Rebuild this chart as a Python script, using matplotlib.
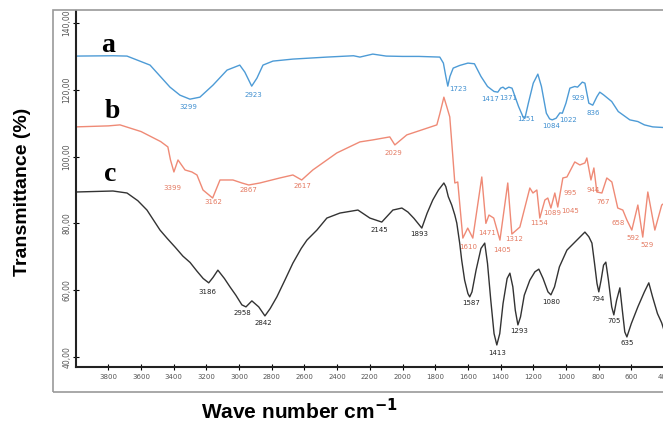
import matplotlib
matplotlib.use("Agg")
import matplotlib.pyplot as plt
from matplotlib.patches import Rectangle

# ---- spectrum a (blue) ----
wn_a = [4000, 3772, 3686, 3545, 3423, 3362, 3301, 3240, 3160, 3074, 2996, 2965, 2923,
        2891, 2854, 2793, 2671, 2463, 2300, 2261, 2182, 2100, 2000, 1900, 1772, 1750,
        1735, 1723, 1710, 1690, 1650, 1600, 1560, 1520, 1480, 1440, 1417, 1400, 1385,
        1371, 1350, 1330, 1290, 1260, 1251, 1230, 1200, 1172, 1150, 1120, 1100, 1084,
        1060, 1037, 1022, 1000, 976, 946, 929, 900, 884, 860, 836, 810, 793, 770, 720,
        680, 609, 560, 520, 469, 400]
t_a = [130.1, 130.2, 130.1, 127.4, 120.8, 118.4, 117.2, 117.8, 121.4, 125.9, 127.4, 125.3, 121.1,
       123.5, 127.4, 128.6, 129.2, 129.8, 130.2, 129.8, 130.7, 130.1, 130.0, 130.0, 129.8, 128.0,
       124.0, 121.1, 124.0, 126.5, 127.3, 128.0, 127.8, 124.0, 121.0, 119.5, 119.3, 120.5, 120.8,
       120.2, 120.8, 120.5, 115.0, 111.6, 111.5, 116.0, 122.0, 124.7, 121.0, 113.0, 111.3, 111.0,
       111.5, 113.1, 113.0, 116.0, 120.5, 121.0, 120.8, 122.3, 122.0, 116.0, 115.4, 118.0, 119.3,
       118.5, 116.5, 113.5, 111.0, 110.5, 109.5, 108.9, 108.7]

# ---- spectrum b (red) ----
wn_b = [4000, 3800, 3729, 3600, 3480, 3436, 3420, 3399, 3374, 3331, 3289, 3258, 3221, 3162,
        3117, 3038, 2983, 2941, 2873, 2751, 2671, 2617, 2549, 2402, 2261, 2182, 2078, 2047,
        1974, 1790, 1772, 1747, 1729, 1711, 1700, 1680, 1662, 1631, 1601, 1570, 1515, 1490, 1471,
        1442, 1404, 1356, 1331, 1282, 1221, 1202, 1178, 1160, 1129, 1111, 1092, 1068, 1050,
        1019, 994, 946, 915, 884, 872, 847, 829, 811, 780, 750, 719, 683, 652, 627, 597,
        560, 530, 499, 456, 414, 400]
t_b = [108.9, 109.2, 109.5, 107.5, 104.5, 102.9, 99.0, 95.4, 99.0, 96.0, 95.4, 94.5, 90.0, 87.6,
       93.0, 93.0, 92.1, 91.5, 92.1, 93.6, 94.5, 93.0, 96.0, 101.1, 104.4, 105.0, 105.9, 103.5,
       106.5, 109.5, 112.8, 117.8, 114.9, 111.9, 105.0, 92.1, 92.4, 75.6, 78.6, 75.6, 93.9, 80.0, 82.5,
       81.6, 75.0, 92.1, 76.8, 78.9, 90.6, 89.1, 90.0, 81.6, 87.0, 87.6, 84.6, 89.1, 84.9,
       93.6, 93.9, 98.4, 97.5, 98.1, 99.6, 93.0, 96.6, 89.4, 89.1, 93.6, 92.4, 84.6, 84.0, 81.0, 78.0,
       85.5, 75.9, 89.4, 78.0, 85.5, 86.0]

# ---- spectrum c (black) ----
wn_c = [4000, 3772, 3686, 3620, 3564, 3484, 3440, 3390, 3344, 3300, 3258, 3220, 3186, 3160,
        3130, 3090, 3056, 3020, 2983, 2958, 2922, 2880, 2842, 2810, 2769, 2720, 2671, 2620,
        2585, 2524, 2463, 2383, 2273, 2200, 2127, 2059, 2004, 1967, 1930, 1882, 1850, 1815,
        1780, 1747, 1735, 1720, 1699, 1680, 1668, 1650, 1638, 1620, 1600, 1589, 1575, 1550,
        1520, 1497, 1480, 1460, 1440, 1423, 1405, 1385, 1360, 1343, 1325, 1310, 1294, 1278,
        1255, 1221, 1190, 1166, 1140, 1110, 1092, 1070, 1040, 994, 933, 884, 860, 841, 825,
        810, 799, 785, 770, 756, 740, 720, 707, 690, 670, 655, 640, 627, 600, 560, 520, 493,
        470, 440, 414, 400]
t_c = [89.4, 89.7, 89.1, 86.8, 84.0, 78.0, 75.5, 72.8, 70.2, 68.3, 65.7, 63.5, 62.2, 63.8,
       66.0, 63.5, 61.0, 58.5, 55.6, 55.0, 56.8, 55.0, 52.3, 54.5, 58.0, 63.0, 68.1, 72.5,
       75.0, 78.0, 81.6, 83.1, 84.0, 81.6, 80.4, 84.0, 84.6, 83.4, 81.5, 78.6, 83.0, 87.0,
       90.0, 92.1, 91.0, 88.0, 85.5, 82.5, 80.1, 74.0, 69.0, 63.0, 59.0, 58.0, 59.5, 66.0,
       72.5, 74.1, 68.0, 57.0, 47.0, 43.6, 47.0, 56.0, 63.5, 65.1, 61.0, 54.0, 49.6, 52.0,
       58.5, 63.0, 65.5, 66.3, 63.5, 59.5, 58.6, 61.0, 67.0, 72.0, 75.0, 77.4, 76.0, 74.1, 68.0,
       62.0, 59.5, 63.0, 67.5, 68.4, 63.0, 55.0, 52.6, 57.0, 60.7, 54.0, 47.5, 46.0, 50.0, 55.0,
       59.5, 62.2, 58.0, 53.0, 50.2, 48.0]

# peak labels: (text, wn, T)
labels_a = [("3299", 3312, 114.9), ("2923", 2915, 118.4), ("1723", 1662, 120.2),
            ("1417", 1466, 117.2), ("1371", 1356, 117.5), ("1251", 1246, 111.3),
            ("1084", 1092, 109.2), ("1022", 988, 111.0), ("929", 927, 117.5),
            ("836", 836, 113.1)]
labels_b = [("3399", 3411, 90.6), ("3162", 3160, 86.4), ("2867", 2941, 90.0),
            ("2617", 2610, 91.2), ("2029", 2059, 101.1), ("1610", 1601, 72.9),
            ("1471", 1485, 77.1), ("1405", 1393, 72.0), ("1312", 1319, 75.3),
            ("1154", 1166, 80.1), ("1089", 1085, 83.1), ("1045", 975, 83.7),
            ("995", 976, 89.1), ("944", 836, 90.0), ("767", 775, 86.4),
            ("658", 683, 80.1), ("592", 591, 75.6), ("529", 505, 73.5)]
labels_c = [("3186", 3197, 59.5), ("2958", 2983, 53.2), ("2842", 2854, 50.2),
            ("2145", 2145, 78.0), ("1893", 1895, 76.8), ("1587", 1582, 56.2),
            ("1413", 1423, 41.2), ("1293", 1288, 47.8), ("1080", 1092, 56.5),
            ("794", 805, 57.4), ("705", 707, 50.8), ("635", 627, 44.2)]

curve_names = ["a", "b", "c"]
name_pos = [(3802, 133.4), (3777, 113.4), (3790, 94.5)]

x_ticks = list(range(3800, 399, -200))
y_ticks = [40, 60, 80, 100, 120, 140]

blue, red, black = "#4d9bd6", "#ef8a76", "#333333"

fig = plt.figure(figsize=(6.63, 4.25), dpi=100)
# outer frame of the original screenshot
fig.patches.append(Rectangle((53 / 663, 1 - 392 / 425), 1.0, (392 - 10) / 425,
                             transform=fig.transFigure, fill=False,
                             edgecolor="#9a9a9a", lw=1.2))
ax = fig.add_axes([75.7 / 663, 1 - 367 / 425, 588.3 / 663, (367 - 11) / 425])

ax.plot(wn_a, t_a, color=blue, lw=1.0)
ax.plot(wn_b, t_b, color=red, lw=1.0)
ax.plot(wn_c, t_c, color=black, lw=1.0)

for lbls, col in [(labels_a, "#3f8fd0"), (labels_b, "#e47a62"), (labels_c, "#222222")]:
    for txt, x, y in lbls:
        ax.text(x, y, txt, color=col, fontsize=5, ha="center", va="center")

for nm, (x, y) in zip(curve_names, name_pos):
    ax.text(x, y, nm, fontsize=20, fontweight="bold", family="Liberation Serif",
            ha="center", va="center", color="black")

ax.set_xlim(4000, 400)
ax.set_ylim(37.0, 143.6)
ax.set_xticks(x_ticks)
ax.set_xticklabels([str(v) for v in x_ticks])
ax.set_yticks(y_ticks)
ax.set_yticklabels([f"{v},00" for v in y_ticks], rotation=90, va="center")
ax.tick_params(axis="x", direction="inout", length=4, width=0.8, labelsize=5,
               labelcolor="#555555", pad=3)
ax.tick_params(axis="y", direction="inout", length=4, width=0.8, labelsize=5.5,
               labelcolor="#555555", pad=1)
for s in ["top", "right"]:
    ax.spines[s].set_visible(False)
for s in ["left", "bottom"]:
    ax.spines[s].set_linewidth(1.5)
    ax.spines[s].set_color("#222222")

fig.text(0.034, 0.548, "Transmittance (%)", rotation=90, ha="center", va="center",
         fontsize=14, fontweight="bold", family="Liberation Sans")
fig.text(0.452, 0.035, r"Wave number cm$^{\mathbf{-1}}$", ha="center", va="center",
         fontsize=15, fontweight="bold", family="Liberation Sans")

fig.savefig("out.png", dpi=100)
